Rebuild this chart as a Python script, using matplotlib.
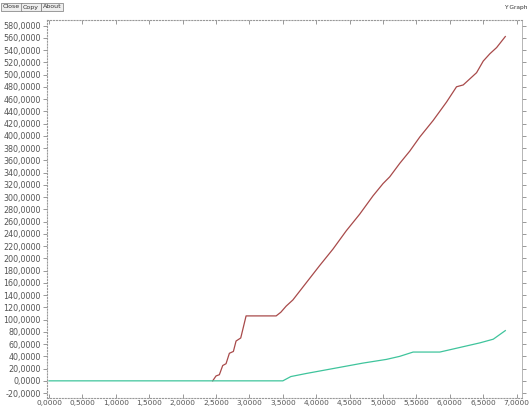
import matplotlib
matplotlib.use("Agg")
import matplotlib.pyplot as plt
import numpy as np

# series
red_x = [2.45, 2.50, 2.55, 2.60, 2.65, 2.70, 2.76, 2.80, 2.87, 2.95, 3.40, 3.47, 3.55,
         3.65, 3.85, 4.05, 4.25, 4.45, 4.65, 4.85, 5.00, 5.10, 5.25, 5.40, 5.55, 5.75,
         5.95, 6.10, 6.20, 6.40, 6.50, 6.60, 6.70, 6.83]
red_y = [0, 8, 10, 25, 28, 45, 48, 65, 70, 106, 106, 112, 122,
         132, 160, 188, 215, 245, 272, 302, 322, 333, 355, 375, 398, 425,
         455, 480, 483, 503, 522, 534, 544, 562]

green_x = [0.0, 3.50, 3.62, 3.85, 4.10, 4.35, 4.70, 5.05, 5.25, 5.45, 5.85, 6.05,
           6.25, 6.45, 6.65, 6.83]
green_y = [0, 0, 7, 12, 17, 22, 29, 35, 40, 47, 47, 52, 57, 62, 68, 82]

x_ticks = np.arange(0, 7.01, 0.5)
y_ticks = np.arange(-20, 581, 20)
x_labels = [f"{v:.4f}".replace(".", ",") for v in x_ticks]
y_labels = [f"{v:.4f}".replace(".", ",") for v in y_ticks]

fig = plt.figure(figsize=(5.3, 4.08), dpi=100)
ax = fig.add_axes([47 / 530, 10 / 408, 475 / 530, 378 / 408])

ax.plot(red_x, red_y, color="#a84a4a", lw=0.9)
ax.plot(green_x, green_y, color="#3fc49c", lw=0.9)

ax.set_xlim(-0.03, 7.08)
ax.set_ylim(-28, 589)
ax.set_xticks(x_ticks)
ax.set_xticklabels(x_labels)
ax.set_yticks(y_ticks)
ax.set_yticklabels(y_labels)
ax.tick_params(labelcolor="#555555", color="#888888", length=3, width=0.6, pad=1.5)
ax.tick_params(axis="x", direction="in", top=True, labelsize=5.3)
ax.tick_params(axis="y", direction="out", right=True, labelsize=5.8)

for side in ["left", "bottom", "top"]:
    ax.spines[side].set_linestyle(":")
    ax.spines[side].set_color("#999999")
    ax.spines[side].set_linewidth(0.8)
ax.spines["right"].set_color("#aaaaaa")
ax.spines["right"].set_linewidth(0.6)

# toolbar at the top
x0 = 3
for name in ["Close", "Copy", "About"]:
    fig.text(x0 / 530, 1 - 7 / 408, name, fontsize=4.5, color="#333333",
             va="center", ha="left",
             bbox=dict(boxstyle="square,pad=0.25", fc="#eeeeee", ec="#777777", lw=0.5))
    x0 += 20
fig.text(527 / 530, 1 - 7 / 408, "Y Graph", fontsize=4.2, color="#333333",
         va="center", ha="right")

fig.savefig("out.png", dpi=100)
